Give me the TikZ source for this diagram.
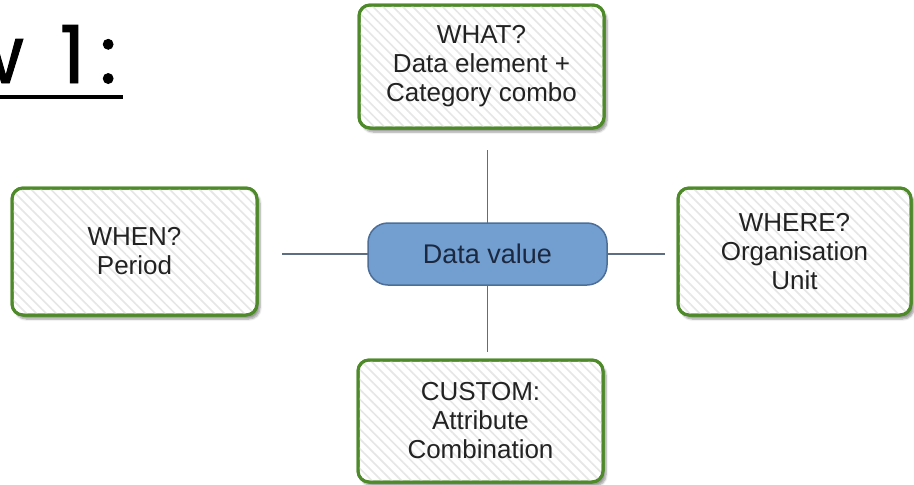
\documentclass[tikz,border=0pt]{standalone}
\usepackage{fontspec}
\setmainfont{Liberation Sans}
\newfontfamily\titlefont[FakeBold=1.2, LetterSpace=18]{Poppins}
\usetikzlibrary{positioning,patterns.meta,shadows.blur}
\definecolor{boxgreen}{HTML}{4E8A2A}
\definecolor{hatchgray}{HTML}{E6E6E6}
\definecolor{valueblue}{HTML}{729FCF}
\definecolor{valueedge}{HTML}{4C6E98}
\definecolor{linkgray}{HTML}{5D6D82}
\definecolor{textdark}{HTML}{222222}
\definecolor{textnavy}{HTML}{1B2840}

\begin{document}
\begin{tikzpicture}[
  x=1pt, y=-1pt,
  font=\fontsize{26}{29}\selectfont,
  link/.style={draw=linkgray, line width=1.3pt},
  box/.style={rectangle, rounded corners=11pt, draw=boxgreen, line width=3pt,
              fill=white, text=textdark, align=center, outer sep=0pt,
              minimum width=245pt, minimum height=126pt,
              blur shadow={shadow xshift=3pt, shadow yshift=-4pt, shadow blur steps=6},
              postaction={pattern={Lines[angle=-45, distance=7pt, line width=1.6pt]},
                          pattern color=hatchgray},
              postaction={draw=boxgreen, line width=3pt}},
  value/.style={rectangle, rounded corners=20pt, draw=valueedge, line width=1.5pt,
                fill=valueblue, text=textnavy, font=\fontsize{27}{30}\selectfont,
                minimum width=239pt, minimum height=62pt, outer sep=0pt}
]
\useasboundingbox (0,0) rectangle (914,485);
\clip (0,0) rectangle (914,485);

% heading, cut at the left edge
\node[font=\titlefont\fontsize{80}{82}\selectfont, anchor=base east, inner sep=0pt]
  (title) at (117,83) {w 1:};
\draw[line width=4pt] (0,97) -- (123,97);

\node[value] (dv) at (487.5,254) {Data value};

\node[box, minimum height=123pt, above=95pt of dv, xshift=-6pt] (what)
  {WHAT?\\Data element +\\Category combo};
\node[box, minimum height=122pt, below=75pt of dv, xshift=-7pt] (custom)
  {CUSTOM:\\Attribute\\Combination};
\node[box, minimum height=127pt, left=111pt of dv, yshift=2.5pt] (when)
  {WHEN?\\Period};
\node[box, minimum width=233pt, minimum height=127pt, right=71pt of dv, yshift=2.5pt] (where)
  {WHERE?\\Organisation\\Unit};

\draw[link, shorten >=22pt] (dv.north) -- (dv.north |- what.south);
\draw[link, shorten >=8pt] (dv.south) -- (dv.south |- custom.north);
\draw[link, shorten >=25pt] (dv.west) -- (dv.west -| when.east);
\draw[link, shorten >=13pt] (dv.east) -- (dv.east -| where.west);

\end{tikzpicture}
\end{document}
